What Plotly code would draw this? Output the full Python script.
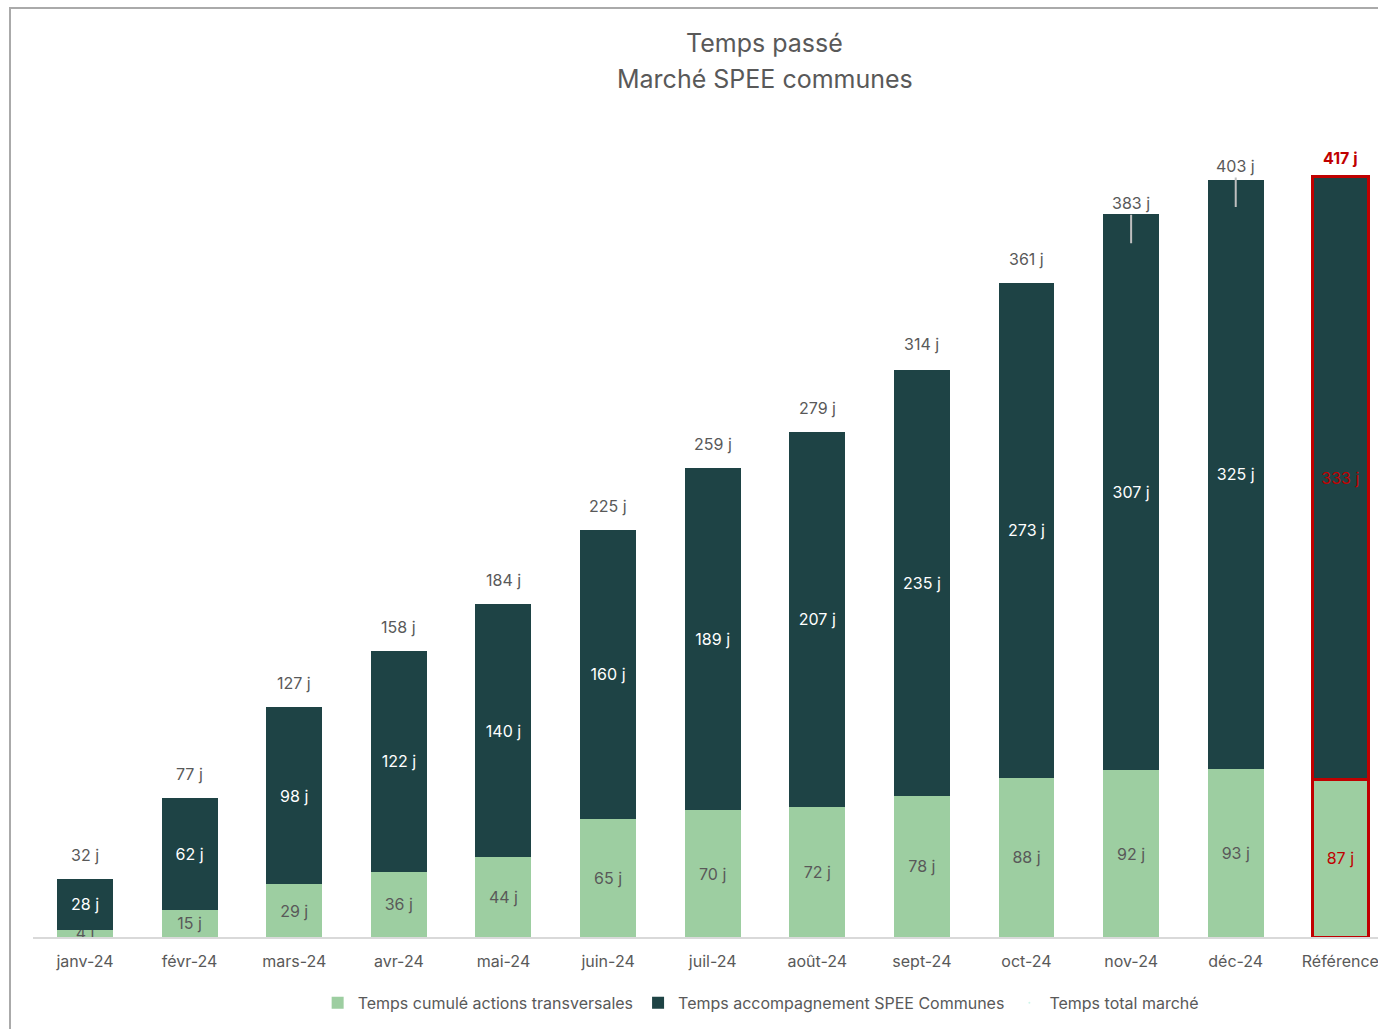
import plotly.graph_objects as go

# ---- data
months = ["janv-24", "févr-24", "mars-24", "avr-24", "mai-24", "juin-24", "juil-24",
          "août-24", "sept-24", "oct-24", "nov-24", "déc-24", "Référence"]
transversales = [4, 15, 29, 36, 44, 65, 70, 72, 78, 88, 92, 93, 87]
accompagnement = [28, 62, 98, 122, 140, 160, 189, 207, 235, 273, 307, 325, 333]
total_marche = [32, 77, 127, 158, 184, 225, 259, 279, 314, 361, 383, 403, 417]

LIGHT = "#9DCEA1"
DARK = "#1E4345"
RED = "#C00000"
GREY = "#595959"
FONT = "Inter"

is_ref = [m == "Référence" for m in months]
line_col = [RED if r else "rgba(0,0,0,0)" for r in is_ref]
line_w = [3 if r else 0 for r in is_ref]

fig = go.Figure()

fig.add_trace(go.Bar(
    x=months, y=transversales, name="Temps cumulé actions transversales",
    marker=dict(color=LIGHT, line=dict(color=line_col, width=line_w)),
    text=[f"{v} j" for v in transversales],
    textposition="inside", insidetextanchor="middle", textangle=0,
    textfont=dict(color=[RED if r else GREY for r in is_ref], size=16, family=FONT),
))
fig.add_trace(go.Bar(
    x=months, y=accompagnement, name="Temps accompagnement SPEE Communes",
    marker=dict(color=DARK, line=dict(color=line_col, width=line_w)),
    text=[f"{v} j" for v in accompagnement],
    textposition="inside", insidetextanchor="middle", textangle=0,
    textfont=dict(color=[RED if r else "white" for r in is_ref], size=16, family=FONT),
))
# total series only used for the legend entry, labels drawn as annotations
fig.add_trace(go.Scatter(
    x=months, y=total_marche, name="Temps total marché", mode="markers",
    marker=dict(size=1, opacity=0), hoverinfo="skip",
))

# total labels (nov / déc pushed up with leader lines)
moved = {"nov-24": -40, "déc-24": -41}
for m, v, r in zip(months, total_marche, is_ref):
    txt = f"<b>{v} j</b>" if r else f"{v} j"
    col = RED if r else GREY
    if m in moved:
        fig.add_annotation(x=m, y=v, text=txt, showarrow=True, arrowhead=0,
                           arrowwidth=2, arrowcolor="#BFBFBF", ax=0, ay=moved[m],
                           standoff=0, font=dict(size=16, color=col, family=FONT))
    else:
        fig.add_annotation(x=m, y=v, text=txt, showarrow=False, yanchor="bottom",
                           yshift=12, font=dict(size=16, color=col, family=FONT))

# two-line title
fig.add_annotation(xref="paper", yref="paper", x=0.544, y=1.0969, yanchor="middle",
                   text="Temps passé", showarrow=False,
                   font=dict(size=25, color=GREY, family=FONT))
fig.add_annotation(xref="paper", yref="paper", x=0.544, y=1.0528, yanchor="middle",
                   text="Marché SPEE communes", showarrow=False,
                   font=dict(size=25, color=GREY, family=FONT))

# chart border
fig.add_shape(type="rect", xref="paper", yref="paper", x0=-0.0171, x1=1.2,
              y0=-0.2, y1=1.1399, line=dict(color="#AAAAAA", width=2), layer="below")

fig.update_layout(
    width=1378, height=1029,
    barmode="stack", bargap=0.465,
    paper_bgcolor="white", plot_bgcolor="white",
    margin=dict(l=33, r=0, t=122, b=92),
    font=dict(family=FONT, color=GREY, size=16),
    uniformtext=dict(minsize=16, mode="show"),
    showlegend=True,
    legend=dict(orientation="h", x=0.541, xanchor="center",
                y=-0.06, yanchor="top", itemwidth=30,
                font=dict(size=16, color=GREY, family=FONT), traceorder="normal"),
    xaxis=dict(range=[-0.497, 12.36], showgrid=False, showline=True,
               linecolor="#D9D9D9", linewidth=2, ticks="", ticklabelstandoff=9,
               tickfont=dict(size=16, color=GREY)),
    yaxis=dict(range=[0, 450], visible=False, showgrid=False),
)

fig.write_html("out.html", config={"displayModeBar": False},
               post_script="document.body.style.margin='0';")
